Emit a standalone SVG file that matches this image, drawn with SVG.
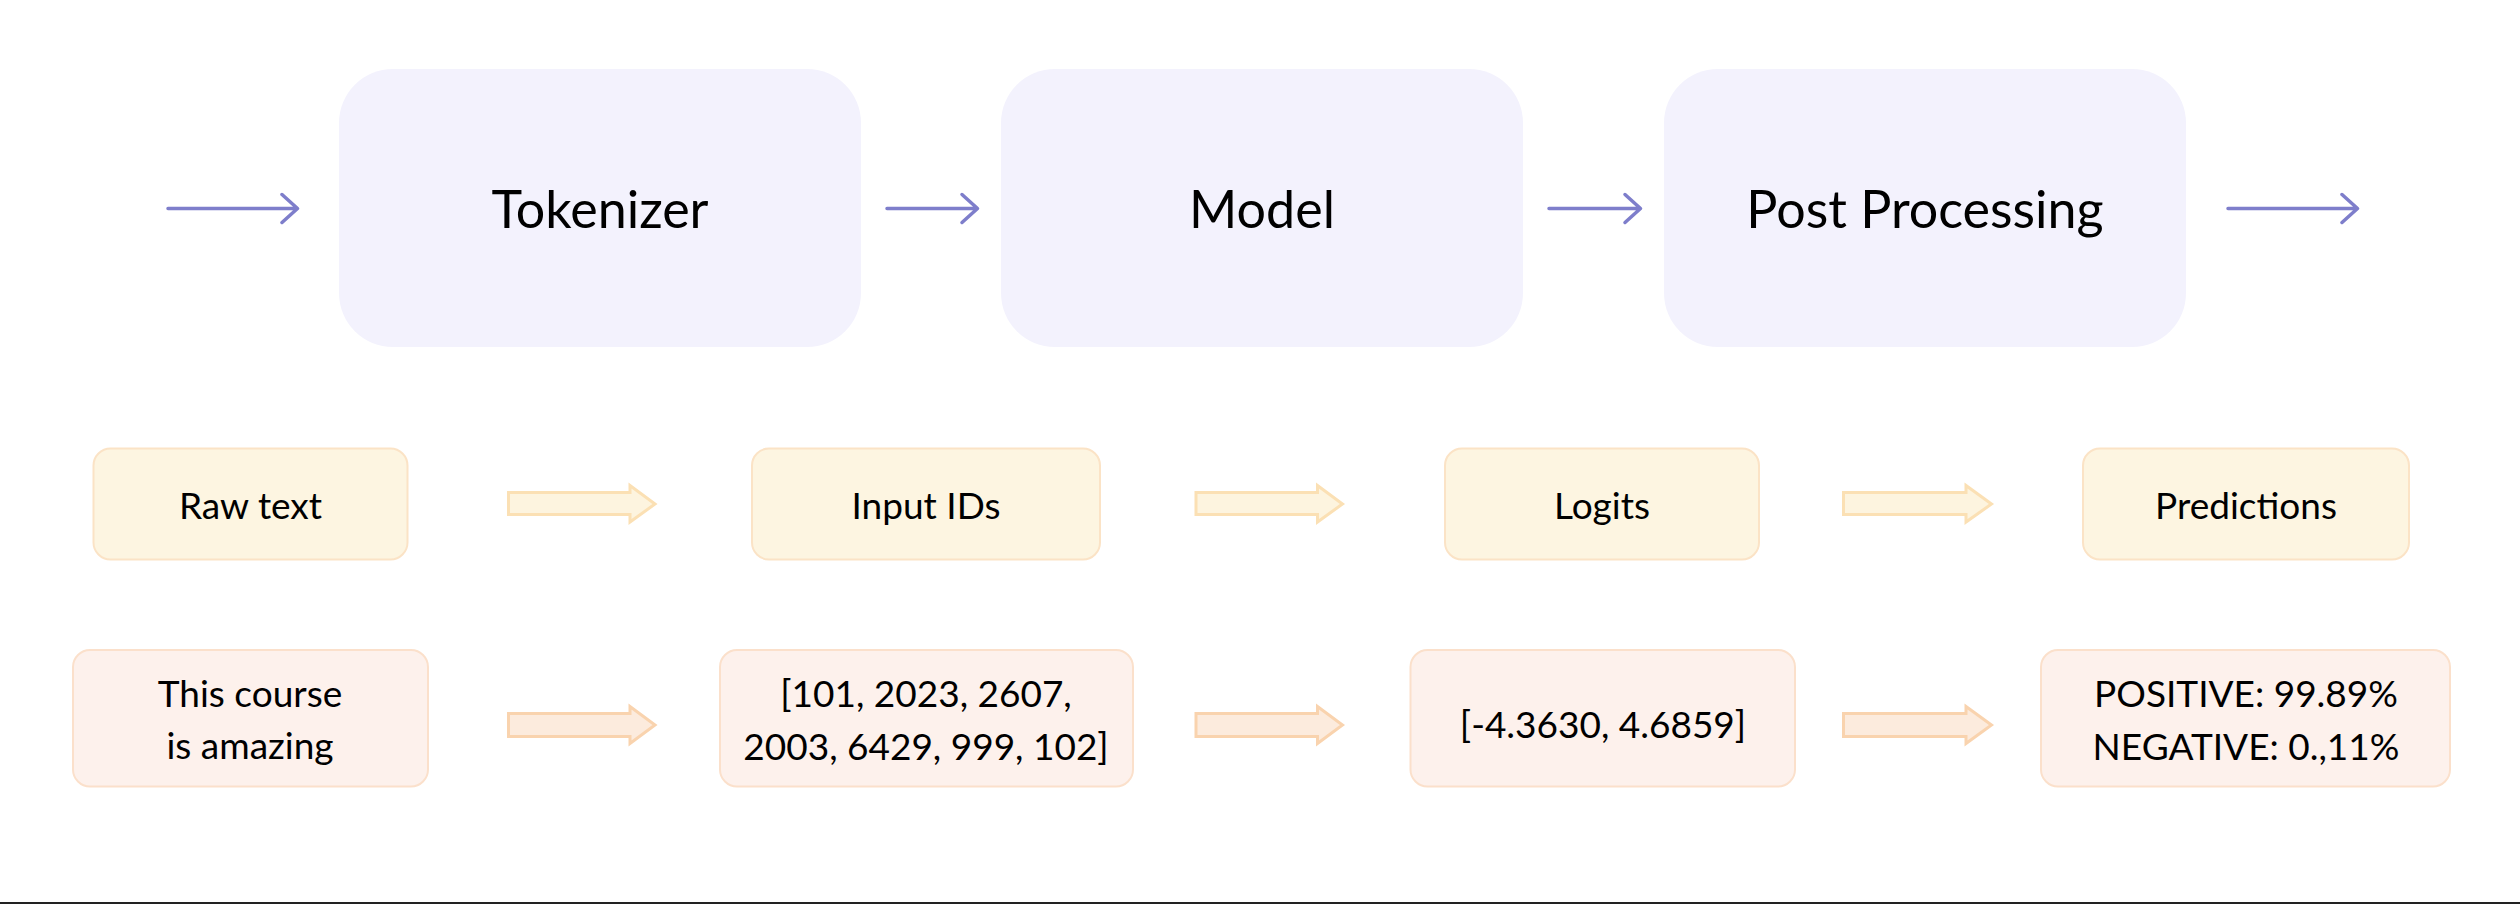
<svg xmlns="http://www.w3.org/2000/svg" width="2520" height="904" viewBox="0 0 2520 904">
<defs>
<style>
.stage{fill:#f3f2fd;}
.stxt{font-family:Lato,"Noto Sans",sans-serif;font-size:52px;fill:#000;text-anchor:middle;}
.lbl{fill:#fdf5e1;stroke:#fbe3c6;stroke-width:2;}
.val{fill:#fdf1ec;stroke:#fbe0cb;stroke-width:2;}
.txt{font-family:Lato,"Noto Sans",sans-serif;font-size:37px;fill:#000;text-anchor:middle;}
.conn{fill:none;stroke:#7e7ecb;stroke-width:3.5;stroke-linecap:round;stroke-linejoin:round;}
.barrow1{fill:#fdf4df;stroke:#fbe0b4;stroke-width:3;}
.barrow2{fill:#fcebdd;stroke:#f9d3ae;stroke-width:3;}
</style>
</defs>
<rect x="0" y="0" width="2520" height="904" fill="#ffffff"/>

<g id="tokenizer">
<rect class="stage" x="339" y="69" width="522" height="278" rx="54" ry="54"/>
<text class="stxt" x="600" y="228">Tokenizer</text>
</g>
<g id="model">
<rect class="stage" x="1001" y="69" width="522" height="278" rx="54" ry="54"/>
<text class="stxt" x="1262" y="228">Model</text>
</g>
<g id="postprocessing">
<rect class="stage" x="1664" y="69" width="522" height="278" rx="54" ry="54"/>
<text class="stxt" x="1925" y="228">Post Processing</text>
</g>

<g id="rawtext">
<rect class="lbl" x="93.5" y="448.5" width="314" height="111" rx="17"/>
<text class="txt" x="250.5" y="519">Raw text</text>
</g>
<g id="inputids">
<rect class="lbl" x="752" y="448.5" width="348" height="111" rx="17"/>
<text class="txt" x="926" y="519">Input IDs</text>
</g>
<g id="logits">
<rect class="lbl" x="1445" y="448.5" width="314" height="111" rx="17"/>
<text class="txt" x="1602" y="519">Logits</text>
</g>
<g id="predictions">
<rect class="lbl" x="2083" y="448.5" width="326" height="111" rx="17"/>
<text class="txt" x="2246" y="519">Predictions</text>
</g>

<g id="sentence">
<rect class="val" x="73" y="650" width="355" height="136.5" rx="17"/>
<text class="txt" x="250" y="706.5">This course</text>
<text class="txt" x="250" y="759">is amazing</text>
</g>
<g id="ids">
<rect class="val" x="720" y="650" width="413" height="136.5" rx="17"/>
<text class="txt" x="926" y="706.5">[101, 2023, 2607,</text>
<text class="txt" x="926" y="759.5">2003, 6429, 999, 102]</text>
</g>
<g id="logitvalues">
<rect class="val" x="1410.5" y="650" width="384.5" height="136.5" rx="17"/>
<text class="txt" x="1603" y="738">[-4.3630, 4.6859]</text>
</g>
<g id="labels">
<rect class="val" x="2041" y="650" width="409" height="136.5" rx="17"/>
<text class="txt" x="2246" y="707">POSITIVE: 99.89%</text>
<text class="txt" x="2246" y="760">NEGATIVE: 0.,11%</text>
</g>

<g id="connectors">
<path class="conn" d="M168 208.5H297M282 194.5L297.5 208.5L282 222.5"/>
<path class="conn" d="M887 208.5H977M962 194.5L977.5 208.5L962 222.5"/>
<path class="conn" d="M1549 208.5H1640M1625 194.5L1640.5 208.5L1625 222.5"/>
<path class="conn" d="M2228 208.5H2357M2342 194.5L2357.5 208.5L2342 222.5"/>

<path class="barrow1" d="M508.5 492.5H630V485.5L655 504L630 522V514.5H508.5Z"/>
<path class="barrow1" d="M1196 492.5H1317.5V485.5L1342.5 504L1317.5 522V514.5H1196Z"/>
<path class="barrow1" d="M1843.5 492.5H1966V485.5L1991.5 504L1966 522V514.5H1843.5Z"/>

<path class="barrow2" d="M508.5 713.5H630V706.5L655 725L630 743.5V736.5H508.5Z"/>
<path class="barrow2" d="M1196 713.5H1317.5V706.5L1342.5 725L1317.5 743.5V736.5H1196Z"/>
<path class="barrow2" d="M1843.5 713.5H1966V706.5L1991.5 725L1966 743.5V736.5H1843.5Z"/>
</g>

<rect x="0" y="902" width="2520" height="2" fill="#222222"/>
</svg>
